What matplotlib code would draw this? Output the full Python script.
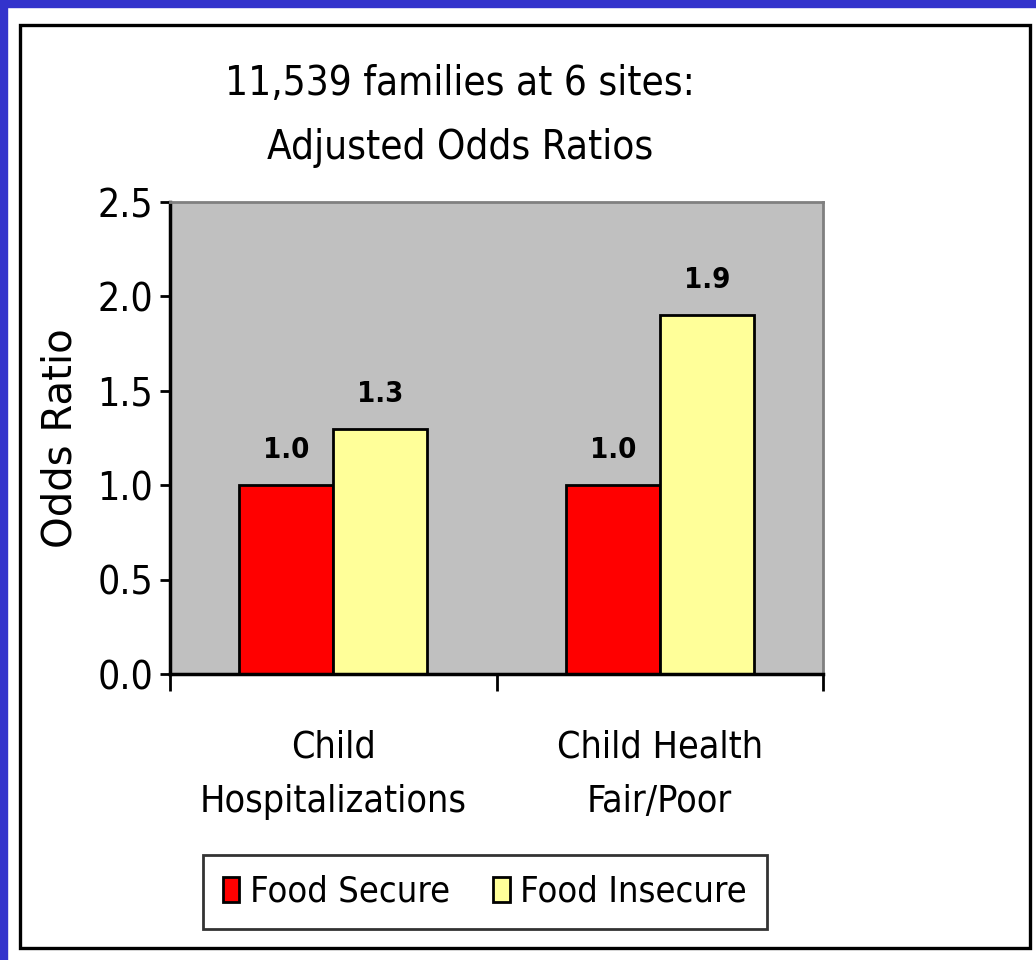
import matplotlib.pyplot as plt
import numpy as np
from matplotlib.patches import Rectangle

# data
categorias = ['Child\nHospitalizations', 'Child Health\nFair/Poor']
food_secure = [1.0, 1.0]
food_insecure = [1.3, 1.9]
series = ['Food Secure', 'Food Insecure']
yticks = [0.0, 0.5, 1.0, 1.5, 2.0, 2.5]

plt.rcParams['font.family'] = ['DejaVu Sans']
plt.rcParams['font.stretch'] = 'condensed'

W, H = 1036, 960
fig = plt.figure(figsize=(W / 100, H / 100), dpi=100)
fig.patch.set_facecolor('white')

# borda azul e moldura preta
fig.patches.append(Rectangle((0, 1 - 7 / H), 1, 7 / H, transform=fig.transFigure,
                             color='#3333cc', zorder=0))
fig.patches.append(Rectangle((0, 0), 7 / W, 1, transform=fig.transFigure,
                             color='#3333cc', zorder=0))
fig.patches.append(Rectangle((20 / W, 1 - 948 / H), (1030 - 20) / W, (948 - 25) / H,
                             transform=fig.transFigure, fill=False, edgecolor='black',
                             linewidth=2.4, zorder=1))

ax = fig.add_axes([170 / W, 1 - 674 / H, 653 / W, 472 / H])
ax.set_facecolor('#c0c0c0')

x = np.arange(len(categorias))
width = 0.288
b1 = ax.bar(x - width / 2, food_secure, width, color='#ff0000', edgecolor='black',
            linewidth=2, label=series[0])
b2 = ax.bar(x + width / 2, food_insecure, width, color='#ffff99', edgecolor='black',
            linewidth=2, label=series[1])
ax.bar_label(b1, fmt='%.1f', padding=15, fontsize=21, fontweight='bold')
ax.bar_label(b2, fmt='%.1f', padding=15, fontsize=21, fontweight='bold')

ax.set_xlim(-0.5, 1.5)
ax.set_ylim(0, 2.5)
ax.set_yticks(yticks)
ax.set_yticklabels([f'{v:.1f}' for v in yticks], fontsize=28)
ax.set_xticks([-0.5, 0.5, 1.5], minor=False)
ax.set_xticklabels([])
ax.set_xticks(x, minor=True)
ax.set_xticklabels(categorias, minor=True, fontsize=27, linespacing=1.65)
ax.tick_params(axis='x', which='major', direction='out', length=12, width=2)
ax.tick_params(axis='x', which='minor', length=0, pad=40)
ax.tick_params(axis='y', direction='out', length=7, width=2, pad=5)

for s in ['left', 'bottom']:
    ax.spines[s].set_linewidth(2.5)
    ax.spines[s].set_color('black')
for s in ['top', 'right']:
    ax.spines[s].set_linewidth(2)
    ax.spines[s].set_color('#808080')

ax.set_ylabel('Odds Ratio', fontsize=29, fontstretch='normal', labelpad=12)

fig.text(460 / W, 1 - 116 / H, '11,539 families at 6 sites:\nAdjusted Odds Ratios',
         ha='center', va='center', fontsize=29, linespacing=1.8)

leg = fig.legend(loc='center', bbox_to_anchor=(485 / W, 1 - 892 / H), ncol=2,
                 fontsize=26, frameon=True, fancybox=False, handlelength=0.45,
                 handleheight=0.7, handletextpad=0.3, columnspacing=1.2,
                 borderpad=0.55)
leg.get_frame().set_edgecolor('black')
leg.get_frame().set_linewidth(2)

fig.savefig('out.png', dpi=100)
